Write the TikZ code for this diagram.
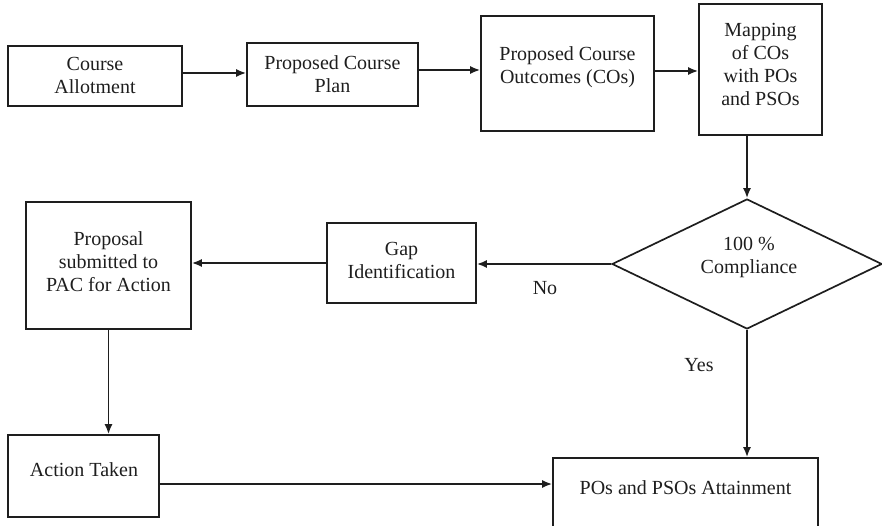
\documentclass[tikz,border=0pt]{standalone}
\usepackage{fontspec}
\setmainfont{Liberation Serif}
\usetikzlibrary{arrows.meta,shapes.geometric}
\definecolor{ink}{RGB}{30,30,30}
\begin{document}
\begin{tikzpicture}[x=1pt,y=-1pt,
  box/.style={draw=ink,line width=1.7pt,inner sep=0pt,rectangle},
  decision/.style={draw=ink,line width=1.7pt,inner sep=0pt,diamond},
  txt/.style={font=\fontsize{20}{23}\selectfont,align=center,text=ink,inner sep=0pt},
  arr/.style={draw=ink,line width=1.7pt,-{Latex[length=10pt,width=8pt]}}]
\useasboundingbox (0,0) rectangle (882,526);

% top row
\node[box,minimum width=174pt,minimum height=60pt] (allot) at (95,76) {};
\node[txt] (allot-t) at (95,75) {Course\\Allotment};
\node[box,minimum width=171pt,minimum height=63pt] (plan) at (332.5,74.5) {};
\node[txt] (plan-t) at (332.5,74) {Proposed Course\\Plan};
\node[box,minimum width=173pt,minimum height=115pt] (outc) at (567.5,73.5) {};
\node[txt] (outc-t) at (567.5,67) {Proposed Course\\Outcomes (COs)};
\node[box,minimum width=123pt,minimum height=131pt] (map) at (760.5,69.5) {};
\node[txt] (map-t) at (760.5,64) {Mapping\\of COs\\with POs\\and PSOs};

% decision row
\node[decision,minimum width=270pt,minimum height=130pt] (dec) at (747,264) {};
\node[txt] (dec-t) at (749,257) {100 \%\\Compliance};
\node[box,minimum width=149pt,minimum height=80pt] (gap) at (401.5,263) {};
\node[txt] (gap-t) at (401.5,260) {Gap\\Identification};
\node[box,minimum width=165pt,minimum height=127pt] (prop) at (108.5,265.5) {};
\node[txt] (prop-t) at (108.5,262) {Proposal\\submitted to\\PAC for Action};

% bottom row
\node[box,minimum width=151pt,minimum height=82pt] (act) at (83.5,476) {};
\node[txt] (act-t) at (84,470) {Action Taken};
\node[box,minimum width=265pt,minimum height=74pt] (pos) at (685.5,495) {};
\node[txt] (pos-t) at (685.5,488) {POs and PSOs Attainment};

% branch labels
\node[txt] (no) at (545,288) {No};
\node[txt] (yes) at (699,365) {Yes};

% connectors
\draw[arr] ([yshift=3pt]allot.east) -- ([yshift=3pt]allot.east -| plan.west);
\draw[arr] ([yshift=4.5pt]plan.east) -- ([yshift=4.5pt]plan.east -| outc.west);
\draw[arr] ([yshift=2.5pt]outc.east) -- ([yshift=2.5pt]outc.east -| map.west);
\draw[arr] (map.south -| dec.north) -- (dec.north);
\draw[arr] (dec.west) -- (dec.west -| gap.east);
\draw[arr] (gap.west) -- (gap.west -| prop.east);
\draw[arr] (prop.south) -- (prop.south |- act.north);
\draw[arr] ([yshift=-8pt]act.east) -- ([yshift=-8pt]act.east -| pos.west);
\draw[arr] (dec.south) -- (dec.south |- pos.north);
\end{tikzpicture}
\end{document}
